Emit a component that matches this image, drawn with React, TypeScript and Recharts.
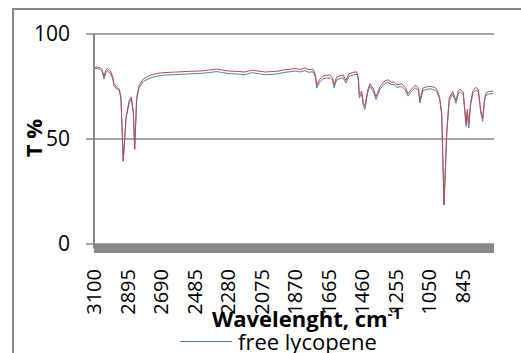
import { CartesianGrid, Legend, Line, LineChart, XAxis, YAxis } from 'recharts';

// wavenumbers, cm-1 (x axis runs high -> low)
const wavenumbers = [
  3100, 3080, 3063, 3050, 3039, 3028, 3019, 2998, 2985, 2978, 2961, 2945, 2935, 2921, 2904, 2884, 2872, 2859, 2851,
  2839, 2823, 2798, 2757, 2716, 2678, 2594, 2520, 2451, 2400, 2349, 2320, 2280, 2230, 2176, 2135, 2100, 2053, 1974,
  1931, 1900, 1870, 1840, 1809, 1790, 1760, 1745, 1737, 1720, 1700, 1676, 1655, 1640, 1631, 1615, 1594, 1575, 1558,
  1540, 1510, 1492, 1482, 1476, 1462, 1452, 1442, 1425, 1411, 1390, 1374, 1350, 1319, 1301, 1280, 1262, 1247, 1217,
  1195, 1178, 1155, 1135, 1115, 1105, 1087, 1065, 1044, 1020, 1003, 985, 972, 958, 941, 926, 905, 885, 870, 860, 840,
  823, 815, 807, 795, 782, 762, 748, 733, 721, 710, 701, 680, 656,
];

// transmittance, % - free lycopene (blue)
const freeLycopene = [
  83.7, 83.5, 83.2, 82.0, 78.6, 81.5, 82.4, 81.2, 78.5, 75.4, 73.8, 73.0, 69.0, 39.6, 59.8, 67.5, 69.2, 62.0, 45.3,
  68.8, 74.6, 77.4, 79.0, 79.9, 80.4, 80.7, 81.0, 81.2, 81.6, 82.1, 81.7, 81.2, 81.0, 80.6, 81.6, 81.2, 80.6, 81.0,
  81.8, 82.0, 82.4, 81.9, 82.6, 81.8, 82.0, 79.5, 74.2, 77.0, 78.6, 79.0, 79.2, 78.0, 74.4, 78.2, 78.8, 79.2, 76.6,
  79.8, 80.6, 80.8, 78.0, 69.6, 71.6, 66.0, 64.2, 72.0, 75.2, 72.5, 68.8, 73.8, 76.5, 77.0, 75.8, 76.0, 74.6, 75.0,
  73.4, 70.4, 72.8, 74.4, 73.2, 67.2, 73.0, 73.6, 73.9, 73.5, 72.6, 69.0, 61.5, 18.8, 52.8, 68.2, 71.5, 67.0, 71.8,
  72.4, 71.2, 56.0, 63.0, 55.2, 66.0, 71.6, 73.4, 72.4, 62.4, 58.4, 68.0, 70.8, 71.5, 71.6,
];

// transmittance, % - second sample (red)
const secondSample = [
  84.3, 84.2, 84.0, 82.9, 79.8, 82.6, 83.4, 82.3, 79.6, 76.4, 74.6, 73.8, 69.8, 39.4, 60.4, 68.3, 70.0, 62.6, 45.0,
  69.8, 75.8, 78.6, 80.3, 81.2, 81.6, 81.9, 82.2, 82.4, 82.8, 83.3, 82.9, 82.4, 82.2, 81.9, 82.8, 82.4, 81.9, 82.3,
  83.0, 83.2, 83.6, 83.1, 83.8, 83.0, 83.2, 80.8, 75.5, 78.3, 79.9, 80.3, 80.5, 79.3, 75.8, 79.5, 80.1, 80.5, 77.9,
  81.0, 81.8, 82.0, 79.2, 71.0, 72.8, 67.4, 65.6, 73.3, 76.4, 73.8, 70.2, 75.0, 77.7, 78.2, 77.0, 77.2, 75.8, 76.2,
  74.6, 71.6, 74.0, 75.6, 74.4, 68.6, 74.2, 74.8, 75.1, 74.7, 73.8, 70.2, 62.6, 18.6, 53.6, 69.4, 72.7, 68.3, 73.0,
  73.6, 72.4, 57.4, 64.2, 56.8, 67.2, 72.8, 74.6, 73.6, 63.8, 60.0, 69.2, 72.0, 72.6, 72.8,
];

const xTicks = [3100, 2895, 2690, 2485, 2280, 2075, 1870, 1665, 1460, 1255, 1050, 845];
const yTicks = [0, 50, 100];

const data = wavenumbers.map((w, i) => ({ w, free: freeLycopene[i], second: secondSample[i] }));

const FONT = '"Open Sans", sans-serif';
const GREY = '#898989';

function XTick(props: any) {
  const { x, y, payload } = props;
  return (
    <text
      x={x}
      y={y}
      transform={`rotate(-90 ${x} ${y})`}
      textAnchor="end"
      dy="0.36em"
      fontSize={20}
      fontFamily={FONT}
      fill="#000"
    >
      {payload.value}
    </text>
  );
}

function XTitle() {
  return (
    <text x={212} y={327} fontSize={22} fontWeight="bold" fontFamily={FONT} fill="#000">
      Wavelenght, cm
      <tspan dy={-8} fontSize={15}>
        -1
      </tspan>
    </text>
  );
}

function YTitle() {
  return (
    <text
      x={34}
      y={138}
      transform="rotate(-90 34 138)"
      textAnchor="middle"
      dy="0.36em"
      fontSize={22}
      fontWeight="bold"
      fontFamily={FONT}
      fill="#000"
    >
      T %
    </text>
  );
}

function LegendContent() {
  return (
    <div style={{ display: 'flex', alignItems: 'center', fontFamily: FONT, fontSize: 22, color: '#000', whiteSpace: 'nowrap' }}>
      <span style={{ display: 'inline-block', width: 52, height: 1, background: '#4a7ebb', marginRight: 6 }} />
      free lycopene
    </div>
  );
}

export default function App() {
  return (
    <div style={{ position: 'absolute', left: 0, top: 0, width: 521, height: 353, overflow: 'hidden', background: '#fff' }}>
      <div
        style={{
          position: 'absolute',
          left: 12,
          top: 8,
          width: 560,
          height: 380,
          border: `2px solid ${GREY}`,
          boxSizing: 'border-box',
        }}
      />
      <div style={{ position: 'absolute', left: 0, top: 0 }}>
        <LineChart width={521} height={353} data={data} margin={{ top: 34, right: 27, bottom: 74.5, left: 34 }}>
          <CartesianGrid horizontal vertical={false} stroke={GREY} strokeWidth={1.5} />
          <XAxis
            dataKey="w"
            type="number"
            domain={[652, 3100]}
            reversed
            allowDataOverflow
            ticks={xTicks}
            interval={0}
            height={30}
            tickLine={false}
            tickSize={0}
            tickMargin={20.5}
            axisLine={{ stroke: GREY, strokeWidth: 9 }}
            tick={<XTick />}
            label={{ content: XTitle }}
          />
          <YAxis
            type="number"
            domain={[-2.14, 100]}
            allowDataOverflow
            ticks={yTicks}
            width={60}
            tickSize={8}
            tickMargin={16}
            tickLine={{ stroke: GREY, strokeWidth: 1.5 }}
            axisLine={{ stroke: GREY, strokeWidth: 2 }}
            tick={{ fill: '#000', fontSize: 21, fontFamily: FONT }}
            label={{ content: YTitle }}
          />
          <Line
            type="linear"
            dataKey="free"
            name="free lycopene"
            stroke="#4a7ebb"
            strokeWidth={1}
            dot={false}
            isAnimationActive={false}
          />
          <Line
            type="linear"
            dataKey="second"
            name="second"
            stroke="#be4b48"
            strokeWidth={1}
            dot={false}
            legendType="none"
            isAnimationActive={false}
          />
          <Legend
            layout="horizontal"
            verticalAlign="middle"
            align="center"
            wrapperStyle={{ top: 326, left: 180, width: 'auto' }}
            content={<LegendContent />}
          />
        </LineChart>
      </div>
    </div>
  );
}
